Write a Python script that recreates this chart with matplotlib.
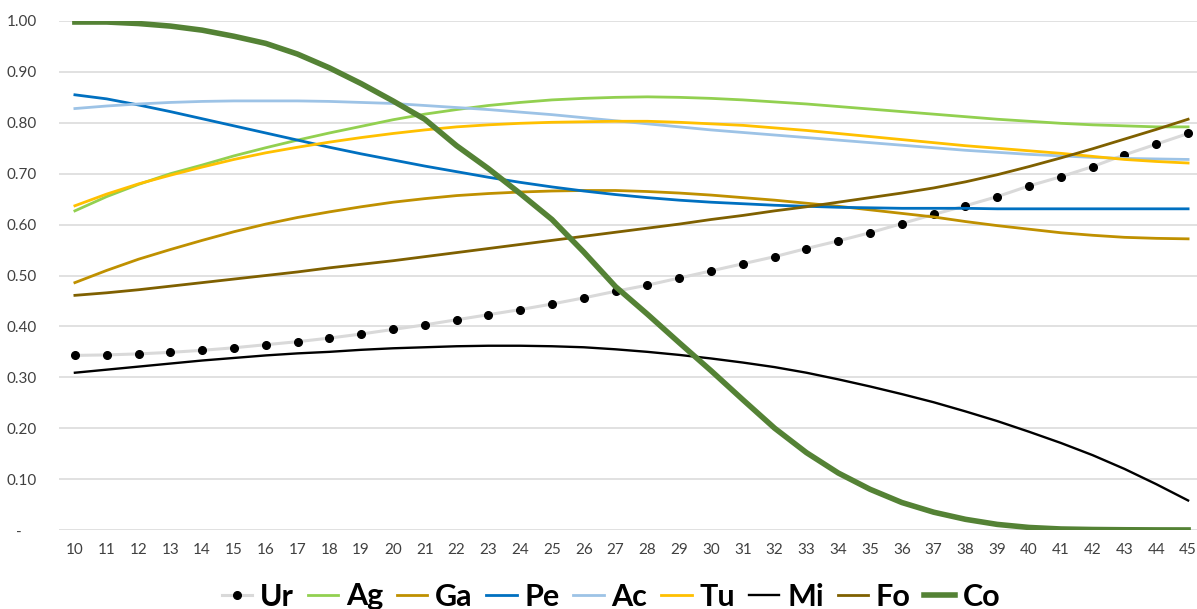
import matplotlib
matplotlib.use("Agg")
import matplotlib.pyplot as plt
from matplotlib.ticker import FixedLocator, FuncFormatter

plt.rcParams['font.family'] = ['Lato', 'DejaVu Sans']

# x categories
ages = list(range(10, 46))

# series values
ur = [0.343, 0.344, 0.346, 0.349, 0.353, 0.358, 0.364, 0.370, 0.377, 0.385,
      0.394, 0.403, 0.413, 0.423, 0.433, 0.444, 0.456, 0.469, 0.481, 0.495,
      0.509, 0.523, 0.537, 0.553, 0.568, 0.584, 0.602, 0.620, 0.637, 0.655,
      0.676, 0.694, 0.714, 0.737, 0.758, 0.779]
ag = [0.627, 0.655, 0.679, 0.700, 0.717, 0.735, 0.751, 0.766, 0.780, 0.793,
      0.806, 0.817, 0.826, 0.834, 0.840, 0.845, 0.848, 0.850, 0.851, 0.850,
      0.848, 0.845, 0.841, 0.837, 0.832, 0.827, 0.822, 0.817, 0.812, 0.807,
      0.803, 0.799, 0.796, 0.794, 0.792, 0.792]
ga = [0.486, 0.510, 0.532, 0.551, 0.569, 0.586, 0.601, 0.614, 0.625, 0.635,
      0.644, 0.651, 0.657, 0.661, 0.664, 0.666, 0.667, 0.667, 0.665, 0.662,
      0.658, 0.653, 0.648, 0.642, 0.636, 0.629, 0.622, 0.615, 0.606, 0.598,
      0.591, 0.584, 0.579, 0.575, 0.573, 0.572]
pe = [0.855, 0.847, 0.835, 0.822, 0.808, 0.794, 0.780, 0.766, 0.752, 0.739,
      0.727, 0.715, 0.704, 0.693, 0.683, 0.674, 0.666, 0.659, 0.653, 0.648,
      0.644, 0.641, 0.638, 0.636, 0.634, 0.633, 0.632, 0.632, 0.632, 0.631,
      0.631, 0.631, 0.631, 0.631, 0.631, 0.631]
ac = [0.828, 0.833, 0.837, 0.840, 0.842, 0.843, 0.843, 0.843, 0.842, 0.840,
      0.838, 0.834, 0.830, 0.826, 0.821, 0.816, 0.810, 0.804, 0.798, 0.792,
      0.786, 0.781, 0.776, 0.771, 0.766, 0.761, 0.756, 0.751, 0.746, 0.742,
      0.738, 0.735, 0.732, 0.730, 0.729, 0.728]
tu = [0.637, 0.660, 0.680, 0.697, 0.713, 0.728, 0.741, 0.752, 0.762, 0.771,
      0.779, 0.786, 0.792, 0.796, 0.799, 0.801, 0.802, 0.803, 0.803, 0.801,
      0.798, 0.795, 0.790, 0.785, 0.779, 0.773, 0.767, 0.761, 0.755, 0.750,
      0.745, 0.740, 0.734, 0.728, 0.724, 0.721]
mi = [0.309, 0.315, 0.321, 0.327, 0.333, 0.338, 0.343, 0.347, 0.350, 0.354,
      0.357, 0.359, 0.361, 0.362, 0.362, 0.361, 0.359, 0.355, 0.350, 0.344,
      0.337, 0.329, 0.320, 0.309, 0.296, 0.282, 0.267, 0.251, 0.233, 0.214,
      0.193, 0.171, 0.147, 0.120, 0.090, 0.058]
fo = [0.461, 0.466, 0.472, 0.479, 0.486, 0.493, 0.500, 0.507, 0.515, 0.522,
      0.529, 0.537, 0.545, 0.553, 0.561, 0.569, 0.577, 0.585, 0.593, 0.601,
      0.610, 0.618, 0.627, 0.635, 0.644, 0.653, 0.662, 0.672, 0.684, 0.698,
      0.714, 0.731, 0.749, 0.768, 0.787, 0.807]
co = [0.998, 0.998, 0.995, 0.990, 0.982, 0.970, 0.956, 0.935, 0.908, 0.877,
      0.843, 0.807, 0.755, 0.710, 0.661, 0.610, 0.546, 0.478, 0.424, 0.368,
      0.313, 0.256, 0.200, 0.152, 0.112, 0.080, 0.054, 0.035, 0.021, 0.011,
      0.005, 0.002, 0.001, 0.0005, 0.0002, 0.0001]

names = ['Ag', 'Ga', 'Pe', 'Ac', 'Tu', 'Mi', 'Fo', 'Co']
colors = ['#92d050', '#bf9000', '#0070c0', '#9dc3e6', '#ffc000', '#000000', '#7f6000', '#548235']
widths = [2.0, 2.0, 2.0, 2.0, 2.0, 1.7, 2.0, 4.0]

fig = plt.figure(figsize=(11.97, 6.09), dpi=100)
W, H = 1197.0, 609.0
ax = fig.add_axes([59 / W, 79 / H, (1204 - 59) / W, 509 / H])

ax.plot(ages, ur, color='#d9d9d9', lw=2.2, marker='o', markersize=5.5,
        markerfacecolor='black', markeredgecolor='black', label='Ur', zorder=3)
for name, vals, c, w in zip(names, [ag, ga, pe, ac, tu, mi, fo, co], colors, widths):
    ax.plot(ages, vals, color=c, lw=w, label=name, zorder=3)

ax.set_xlim(9.5, 45.5)
ax.set_ylim(0, 1.0)
ax.xaxis.set_major_locator(FixedLocator(ages))
ax.yaxis.set_major_locator(FixedLocator([i / 10 for i in range(11)]))
ax.yaxis.set_major_formatter(FuncFormatter(lambda v, p: '-    ' if v < 0.001 else f'{v:.2f}'))
ax.grid(axis='y', color='#d9d9d9', lw=1.1, zorder=0)
ax.set_axisbelow(True)
for s in ax.spines.values():
    s.set_visible(False)
ax.tick_params(length=0, labelsize=11, labelcolor='#404040')
ax.tick_params(axis='y', pad=16)
ax.tick_params(axis='x', pad=9)

leg = fig.legend(loc='upper center', bbox_to_anchor=(611 / W, 1 - 555 / H), ncol=9,
                 frameon=False, handlelength=1.0, handletextpad=0.25, columnspacing=0.45,
                 prop={'size': 22, 'weight': 'bold'})

fig.savefig('out.png', dpi=100)
